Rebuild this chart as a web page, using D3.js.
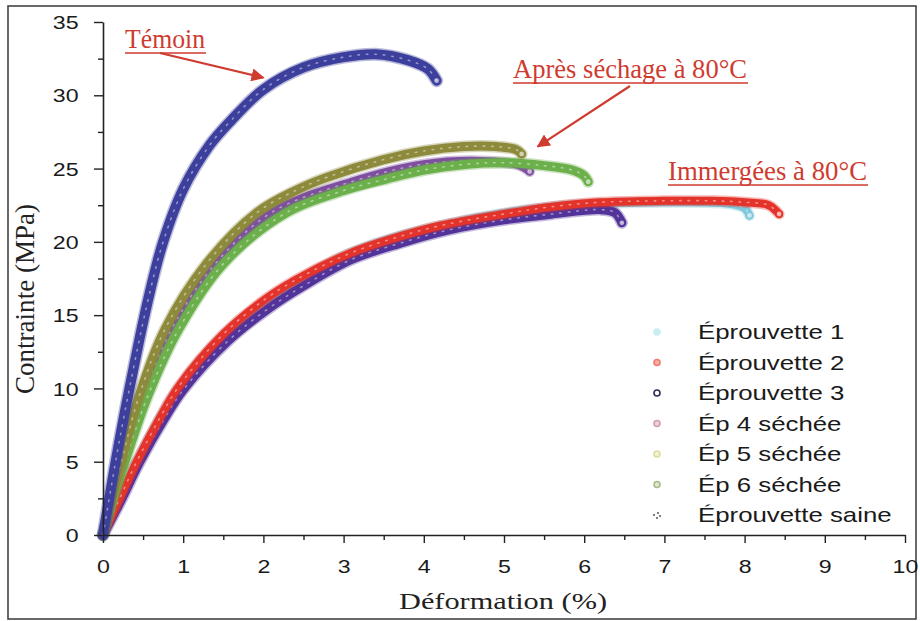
<!DOCTYPE html>
<html>
<head>
<meta charset="utf-8">
<script src="https://cdn.jsdelivr.net/npm/d3@7"></script>
<style>
  html, body { margin: 0; padding: 0; background: #fff; }
  svg { display: block; }
</style>
</head>
<body>
<svg id="chart" width="920" height="621"></svg>
<script>
// Courbes contrainte–déformation : [déformation (%), contrainte (MPa)]
const eprouvette1 = [[0,0],[0.2,2.3],[0.42,5.0],[0.94,10.0],[1.5,13.6],[2.0,15.8],[3.07,19.2],[4.2,21.1],[5.6,22.4],[7.0,22.7],[7.8,22.6],[8.0,22.3],[8.06,21.8]];
const eprouvette2 = [[0,0],[0.2,2.4],[0.42,5.0],[0.7,7.9],[0.94,10.1],[1.5,13.7],[2.0,16.0],[2.4,17.4],[3.07,19.2],[3.6,20.2],[4.2,21.1],[5.0,21.9],[5.6,22.4],[6.2,22.7],[7.0,22.8],[7.6,22.8],[8.0,22.7],[8.3,22.5],[8.43,21.9]];
const eprouvette3 = [[0,0],[0.22,2.3],[0.46,5.0],[0.75,7.8],[1.0,9.9],[1.55,13.2],[2.05,15.4],[2.5,17.0],[3.1,18.8],[3.7,19.9],[4.3,20.8],[5.0,21.5],[5.6,21.9],[6.2,22.2],[6.38,22.0],[6.47,21.3]];
const ep4Sechee = [[0,0],[0.1,2.1],[0.23,4.7],[0.5,9.4],[0.85,14.0],[1.4,18.5],[2.1,22.0],[3.1,24.1],[4.0,25.3],[4.8,25.5],[5.2,25.2],[5.32,24.8]];
const ep5Sechee = [[0,0],[0.1,2.2],[0.22,4.8],[0.44,9.3],[0.77,14.0],[1.29,18.5],[1.92,22.0],[2.4,23.5],[2.79,24.4],[3.49,25.6],[4.0,26.2],[4.5,26.5],[4.9,26.5],[5.15,26.3],[5.22,26.0]];
const ep6Sechee = [[0,0],[0.1,2.0],[0.25,4.6],[0.56,9.5],[0.94,14.0],[1.5,18.5],[2.29,22.0],[3.0,23.5],[3.54,24.3],[4.0,24.9],[4.54,25.3],[5.0,25.4],[5.5,25.2],[5.85,24.9],[6.0,24.5],[6.05,24.1]];
const eprouvetteSaine = [[0,0],[0.1,3.2],[0.2,6.3],[0.33,10.0],[0.46,13.5],[0.59,16.7],[0.75,20.0],[1.0,23.6],[1.33,26.6],[1.6,28.3],[2.0,30.4],[2.5,31.9],[3.0,32.6],[3.4,32.8],[3.8,32.4],[4.05,31.8],[4.16,31.0]];

const legendLabels = ["Éprouvette 1", "Éprouvette 2", "Éprouvette 3", "Ép 4 séchée", "Ép 5 séchée", "Ép 6 séchée", "Éprouvette saine"];
const xTicks = [0,1,2,3,4,5,6,7,8,9,10];
const yTicks = [0,5,10,15,20,25,30,35];

const svg = d3.select("#chart");

// Cadre de la figure
svg.append("rect").attr("x", 8).attr("y", 6).attr("width", 908).attr("height", 613)
  .attr("fill", "none").attr("stroke", "#444").attr("stroke-width", 1.6);

const x = d3.scaleLinear().domain([0, 10]).range([103, 905]);
const y = d3.scaleLinear().domain([0, 35]).range([535, 22]);

// Séries : ordre de tracé (du fond vers le dessus)
const series = [
  { name: legendLabels[0], data: eprouvette1, color: "#7fc8dc", width: 8 },
  { name: legendLabels[2], data: eprouvette3, color: "#52339a", width: 9 },
  { name: legendLabels[1], data: eprouvette2, color: "#e4332a", width: 8 },
  { name: legendLabels[3], data: ep4Sechee, color: "#7d4f9e", width: 8 },
  { name: legendLabels[5], data: ep6Sechee, color: "#6cb04c", width: 9 },
  { name: legendLabels[4], data: ep5Sechee, color: "#8d8a3c", width: 9 },
  { name: legendLabels[6], data: eprouvetteSaine, color: "#3c3f9c", width: 10 }
];

const line = d3.line().x(d => x(d[0])).y(d => y(d[1])).curve(d3.curveCatmullRom.alpha(0.5));

const plot = svg.append("g");
series.forEach(s => {
  const g = plot.append("g");
  // halo doux autour de la bande de points
  g.append("path").attr("d", line(s.data)).attr("fill", "none")
    .attr("stroke", s.color).attr("stroke-opacity", 0.35)
    .attr("stroke-width", s.width + 3).attr("stroke-linecap", "round").attr("stroke-linejoin", "round");
  g.append("path").attr("d", line(s.data)).attr("fill", "none")
    .attr("stroke", s.color).attr("stroke-width", s.width)
    .attr("stroke-linecap", "round").attr("stroke-linejoin", "round");
  // centres clairs des marqueurs circulaires
  g.append("path").attr("d", line(s.data)).attr("fill", "none")
    .attr("stroke", "#ffffff").attr("stroke-opacity", 0.45)
    .attr("stroke-width", 1.6).attr("stroke-dasharray", "1.5 7")
    .attr("stroke-linecap", "round");
  // dernier point de l'essai (rupture)
  const last = s.data[s.data.length - 1];
  g.append("circle").attr("cx", x(last[0])).attr("cy", y(last[1])).attr("r", 3.2)
    .attr("fill", "#fff").attr("fill-opacity", 0.6).attr("stroke", s.color).attr("stroke-width", 1.6);
});

// Axes
const axisColor = "#222";
const xAxis = svg.append("g").attr("transform", `translate(0,${y(0)})`)
  .call(d3.axisBottom(x).tickValues(xTicks).tickSize(8).tickSizeOuter(0).tickFormat(d3.format("d")));
const xMinor = svg.append("g").attr("transform", `translate(0,${y(0)})`)
  .call(d3.axisBottom(x).tickValues(d3.range(0.5, 10, 1)).tickSize(5).tickSizeOuter(0).tickFormat(""));
const yAxis = svg.append("g").attr("transform", `translate(${x(0)},0)`)
  .call(d3.axisLeft(y).tickValues(yTicks).tickSize(9).tickSizeOuter(0).tickFormat(d3.format("d")));
const yMinor = svg.append("g").attr("transform", `translate(${x(0)},0)`)
  .call(d3.axisLeft(y).tickValues(d3.range(2.5, 35, 5)).tickSize(5).tickSizeOuter(0).tickFormat(""));

[xAxis, xMinor, yAxis, yMinor].forEach(a => {
  a.select(".domain").attr("stroke", axisColor).attr("stroke-width", 1.6);
  a.selectAll(".tick line").attr("stroke", axisColor).attr("stroke-width", 1.4);
});
xMinor.select(".domain").remove();
yMinor.select(".domain").remove();

xAxis.selectAll(".tick text")
  .attr("font-family", "'Liberation Sans', Arial, sans-serif").attr("font-size", 19)
  .attr("fill", "#1a1a1a").attr("y", 25).attr("dy", "0.71em")
  .attr("transform", "scale(1.22,1)");
yAxis.selectAll(".tick text")
  .attr("font-family", "'Liberation Sans', Arial, sans-serif").attr("font-size", 19)
  .attr("fill", "#1a1a1a").attr("x", -20).attr("dy", "0.35em")
  .attr("transform", "scale(1.22,1)");

// Titres des axes
svg.append("text").attr("x", 503).attr("y", 609).attr("text-anchor", "middle")
  .attr("font-family", "'Liberation Serif', 'Times New Roman', serif").attr("font-size", 23)
  .attr("fill", "#222").attr("textLength", 208).attr("lengthAdjust", "spacingAndGlyphs")
  .text("Déformation (%)");
svg.append("text").attr("transform", "translate(24,299) scale(1.15,1) rotate(-90)")
  .attr("text-anchor", "middle").attr("dy", "0.35em")
  .attr("font-family", "'Liberation Serif', 'Times New Roman', serif").attr("font-size", 24)
  .attr("fill", "#222").attr("textLength", 190).attr("lengthAdjust", "spacingAndGlyphs")
  .text("Contrainte (MPa)");

// Légende
const legendMarks = [
  { fill: "#c9eef0", stroke: "#c9eef0" },
  { fill: "#f6b0a8", stroke: "#ee7a6c" },
  { fill: "#ffffff", stroke: "#2c2c5a" },
  { fill: "#ecd2dc", stroke: "#d49ab4" },
  { fill: "#f2f2d2", stroke: "#dcdca0" },
  { fill: "#dfe6cf", stroke: "#aabb88" },
  null
];
const legend = svg.append("g");
legendLabels.forEach((lab, i) => {
  const by = 339 + i * 30.5;
  const cy = by - 7;
  const m = legendMarks[i];
  if (m) {
    legend.append("circle").attr("cx", 657).attr("cy", cy).attr("r", 3)
      .attr("fill", m.fill).attr("stroke", m.stroke).attr("stroke-width", 1.6);
  } else {
    [[-3, 0], [1, -2], [3, 1], [0, 3]].forEach(p => legend.append("circle")
      .attr("cx", 657 + p[0]).attr("cy", cy + p[1]).attr("r", 0.9).attr("fill", "#444"));
  }
  legend.append("text").attr("transform", `translate(698,${by}) scale(1.23,1)`)
    .attr("font-family", "'Liberation Sans', Arial, sans-serif").attr("font-size", 21)
    .attr("fill", "#1a1a1a").text(lab);
});

// Annotations
const red = "#cf3b2f";
const defs = svg.append("defs");
defs.append("marker").attr("id", "arrow").attr("viewBox", "0 0 10 10")
  .attr("refX", 9).attr("refY", 5).attr("markerWidth", 6).attr("markerHeight", 6)
  .attr("orient", "auto-start-reverse").attr("markerUnits", "strokeWidth")
  .append("path").attr("d", "M0,0 L10,5 L0,10 Z").attr("fill", red);

const notes = [
  { text: "Témoin", x: 125, y: 48, len: 80, from: [160, 53], to: [2.0, 31.2] },
  { text: "Après séchage à 80°C", x: 513, y: 78, len: 234, from: [630, 86], to: [5.42, 26.5] },
  { text: "Immergées à 80°C", x: 668, y: 180, len: 199, from: null, to: null }
];
notes.forEach(n => {
  svg.append("text").attr("x", n.x).attr("y", n.y)
    .attr("font-family", "'Liberation Serif', 'Times New Roman', serif").attr("font-size", 27)
    .attr("fill", red).attr("textLength", n.len).attr("lengthAdjust", "spacingAndGlyphs")
    .text(n.text);
  svg.append("line").attr("x1", n.x).attr("x2", n.x + n.len + 1)
    .attr("y1", n.y + 5).attr("y2", n.y + 5).attr("stroke", red).attr("stroke-width", 1.5);
  if (n.from) {
    svg.append("line").attr("x1", n.from[0]).attr("y1", n.from[1])
      .attr("x2", x(n.to[0])).attr("y2", y(n.to[1]))
      .attr("stroke", red).attr("stroke-width", 2.2).attr("marker-end", "url(#arrow)");
  }
});
</script>
</body>
</html>
